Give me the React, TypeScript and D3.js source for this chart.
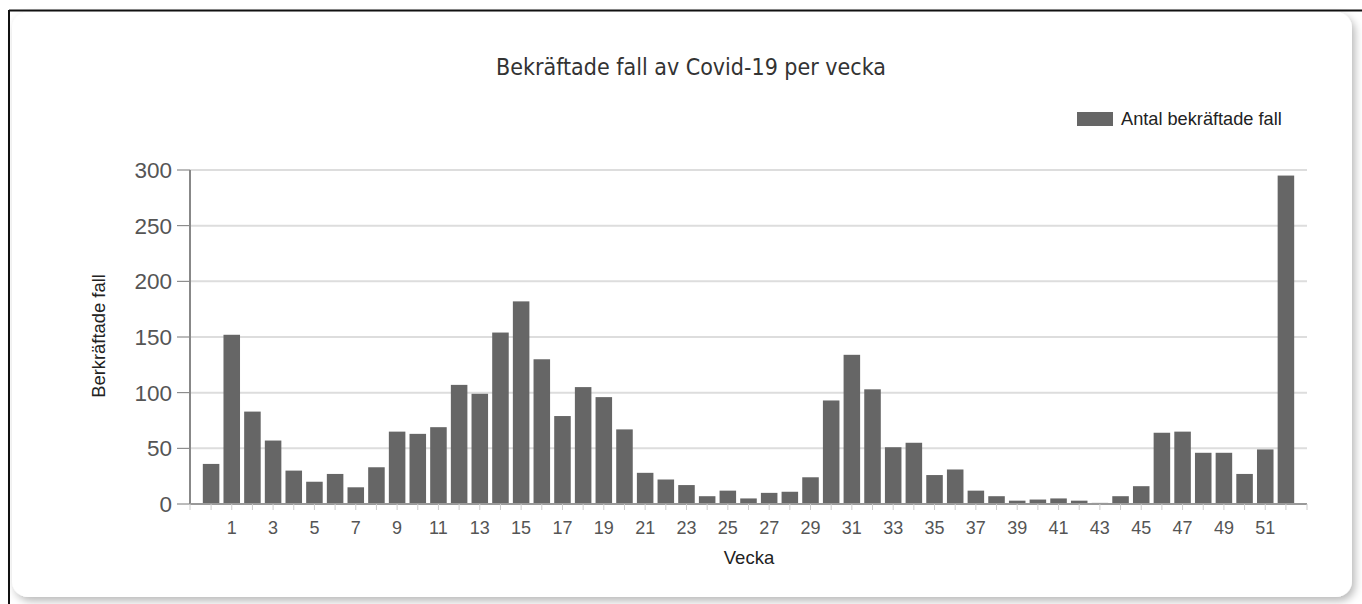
import React from "react";
import * as d3 from "d3";

const weeks: string[] = ["53", ...Array.from({ length: 52 }, (_, i) => String(i + 1))];
const cases: number[] = [
  36, 152, 83, 57, 30, 20, 27, 15, 33, 65, 63, 69, 107, 99, 154, 182, 130, 79, 105, 96,
  67, 28, 22, 17, 7, 12, 5, 10, 11, 24, 93, 134, 103, 51, 55, 26, 31, 12, 7, 3,
  4, 5, 3, 1, 7, 16, 64, 65, 46, 46, 27, 49, 295,
];
const yTicks: number[] = [0, 50, 100, 150, 200, 250, 300];
const title = "Bekräftade fall av Covid-19 per vecka";
const seriesName = "Antal bekräftade fall";
const xTitle = "Vecka";
const yTitle = "Berkräftade fall";

export default function App() {
  const W = 1362, H = 604;
  const left = 190, right = 1307, top = 170, bottom = 504;
  const x = d3.scaleBand<string>().domain(weeks).range([left, right]).paddingInner(0.2).paddingOuter(0.62);
  const y = d3.scaleLinear().domain([0, 300]).range([bottom, top]);
  const font = "'Liberation Sans', Arial, sans-serif";
  return (
    <svg width={W} height={H} style={{ position: "absolute", left: 0, top: 0 }} fontFamily={font}>
      <defs>
        <filter id="sh" x="-5%" y="-5%" width="110%" height="115%">
          <feDropShadow dx="3" dy="4" stdDeviation="4" floodColor="#000" floodOpacity="0.28" />
        </filter>
      </defs>
      <rect x={0} y={0} width={W} height={H} fill="#fff" />
      <rect x={12} y={12} width={1340} height={585} rx={16} fill="#fff" filter="url(#sh)" />
      <line x1={9} y1={10.5} x2={W} y2={10.5} stroke="#111" strokeWidth={2} />
      <line x1={9} y1={10} x2={9} y2={H} stroke="#111" strokeWidth={2} />
      <text x={691} y={75} textAnchor="middle" fontSize={23} fill="#333" fontFamily="Tahoma, 'DejaVu Sans Condensed', sans-serif">{title}</text>
      <rect x={1077} y={112} width={36} height={14} fill="#666" />
      <text x={1121} y={125} fontSize={18.2} fill="#222">{seriesName}</text>
      {yTicks.map((t) => (
        <g key={t}>
          {t > 0 && <line x1={left} x2={right} y1={y(t)} y2={y(t)} stroke="#ddd" strokeWidth={2} />}
          <line x1={177} x2={left} y1={y(t)} y2={y(t)} stroke="#777" strokeWidth={1} />
          <text x={172} y={y(t)} dy="0.36em" textAnchor="end" fontSize={22.5} fill="#555">{t}</text>
        </g>
      ))}
      {weeks.map((w, i) => (
        <rect key={w} x={x(w)!} y={y(cases[i])} width={x.bandwidth()} height={bottom - y(cases[i])} fill="#666" />
      ))}
      <line x1={left} x2={left} y1={top} y2={bottom} stroke="#888" strokeWidth={2} />
      <line x1={left} x2={right} y1={bottom} y2={bottom} stroke="#999" strokeWidth={2} />
      {[left, right].map((p) => (
        <line key={p} x1={p} x2={p} y1={bottom} y2={bottom + 6} stroke="#ccc" strokeWidth={1} />
      ))}
      {weeks.map((w, i) => {
        const cx = x(w)! + x.bandwidth() / 2;
        return (
          <g key={"t" + w}>
            <line x1={cx} x2={cx} y1={bottom} y2={bottom + 6} stroke="#ccc" strokeWidth={1} />
            {i % 2 === 1 && (
              <text x={cx} y={534} textAnchor="middle" fontSize={18} fill="#555">{w}</text>
            )}
          </g>
        );
      })}
      <text x={749} y={564} textAnchor="middle" fontSize={18.5} fill="#222">{xTitle}</text>
      <text transform={`translate(105,336) rotate(-90)`} textAnchor="middle" fontSize={18.4} fill="#222">{yTitle}</text>
    </svg>
  );
}
